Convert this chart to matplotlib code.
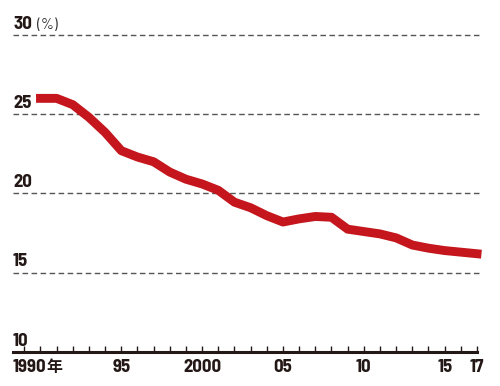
import matplotlib
matplotlib.use("Agg")
import matplotlib.pyplot as plt
from matplotlib.ticker import MultipleLocator

years = list(range(1990, 2018))
values = [26.0, 26.0, 25.6, 24.8, 23.85, 22.7, 22.3, 22.0, 21.35, 20.9,
          20.6, 20.2, 19.45, 19.1, 18.6, 18.2, 18.4, 18.55, 18.5, 17.75,
          17.6, 17.45, 17.2, 16.75, 16.55, 16.4, 16.3, 16.2]
y_ticks = [10, 15, 20, 25, 30]
x_tick_pos = [1990, 1995, 2000, 2005, 2010, 2015, 2017]
x_tick_labels = ["1990", "95", "2000", "05", "10", "15", "17"]
year_suffix = "年"

txt = "#231815"
red = "#c4161c"
fam = ["Barlow Semi Condensed", "Noto Sans CJK JP", "DejaVu Sans"]
fs = 13.5

fig = plt.figure(figsize=(5.0, 3.86), dpi=100)
ax = fig.add_axes([0.026, 0.088, 0.928, 0.842])
ax.set_xlim(1988.3, 2017)
ax.set_ylim(10, 30.5)

for v in y_ticks[1:]:
    ax.axhline(v, xmin=0, xmax=1.004, color="#555555", lw=1.0,
               dashes=(4, 2.5), clip_on=False, zorder=1)

ax.plot(years, values, color=red, lw=6.4, solid_capstyle="projecting",
        solid_joinstyle="round", clip_on=False, zorder=3)

for s in ["top", "right", "left"]:
    ax.spines[s].set_visible(False)
ax.spines["bottom"].set_linewidth(2.2)
ax.spines["bottom"].set_color(txt)
ax.set_yticks([])
ax.xaxis.set_major_locator(MultipleLocator(1))
ax.tick_params(axis="x", direction="in", length=4, width=1, color=txt,
               labelbottom=False)

for v in y_ticks:
    ax.text(0.0, v + 0.4, str(v), transform=ax.get_yaxis_transform(),
            ha="left", va="baseline", fontsize=fs, fontweight="bold",
            color=txt, family=fam)
ax.text(0.052, 30.4, "(%)", transform=ax.get_yaxis_transform(),
        ha="left", va="baseline", fontsize=11.5, color="#333333",
        family=fam)

first = None
lab_y = -0.062
for p, lab in zip(x_tick_pos, x_tick_labels):
    if p == 1990:
        first = ax.text(0.0, lab_y, lab, transform=ax.transAxes, ha="left",
                        va="baseline", fontsize=fs, fontweight="bold",
                        color=txt, family=fam)
    else:
        ax.text(p, lab_y, lab, transform=ax.get_xaxis_transform(),
                ha="center", va="baseline", fontsize=fs, fontweight="bold",
                color=txt, family=fam)

fig.canvas.draw()
bb = first.get_window_extent(renderer=fig.canvas.get_renderer())
x_end = ax.transAxes.inverted().transform((bb.x1 - 0.5, 0))[0]
ax.text(x_end, lab_y, year_suffix, transform=ax.transAxes, ha="left",
        va="baseline", fontsize=11.5, fontweight="bold", color=txt,
        family=["Noto Sans CJK JP", "DejaVu Sans"])

fig.savefig("out.png", dpi=100)
